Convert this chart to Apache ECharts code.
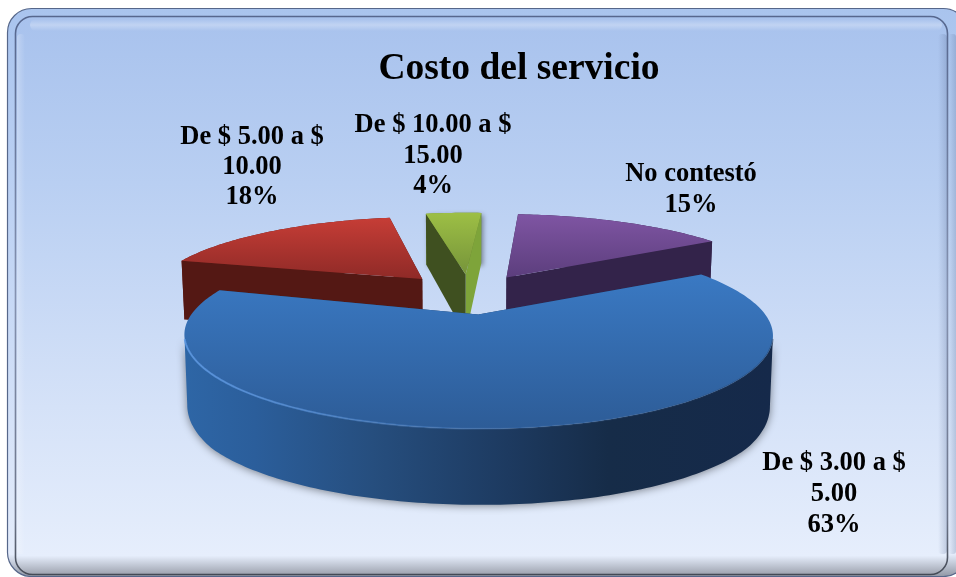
<!DOCTYPE html>
<html>
<head>
<meta charset="utf-8">
<style>html,body{margin:0;padding:0;background:#fff}#c{width:956px;height:577px}</style>
<script src="https://cdn.jsdelivr.net/npm/echarts@6/dist/echarts.min.js"></script>
</head>
<body>
<div id="c"></div>
<script>
// ---- data (clockwise, in painting order) ----
const categories = ['De $ 5.00 a $\n10.00', 'De $ 10.00 a $\n15.00', 'No contestó', 'De $ 3.00 a $\n5.00'];
const values = [18, 4, 15, 63];
const titleText = 'Costo del servicio';

// ---- styling ----
const startAngle = 286.8;
const view = {cx: 470, cy: 293.5, rx: 272, ry: 80, k: 0.21, d0: 63, explode: 0.25};
const nudgeX = [-5, -3, 1, 0];
const turn = [-2, -2, -1.5, 0];
const reach = [1.01, 1.03, 1.045, 1];
const labelX = [252, 433, 691, 834];
const labelY = [167, 156, 190, 494];
const labelLine = [30, 30.5, 31, 31];
const topStops = [['#c63d36', '#8f2a27'], ['#9dbf45', '#76943a'], ['#7f55a3', '#5c3e7d'], ['#3a79c3', '#2d5c97']];
const startCut = ['#541814', '#3f5020', '#33234a', '#1c3c60'];
const endCut = ['#541814', '#7ea43a', '#33234a', '#1c3c60'];
const rimStops = [
  [[0, '#6e1f1b'], [1, '#541814']],
  [[0, '#7ea43a'], [1, '#5f7d2c']],
  [[0, '#33234a'], [1, '#33234a']],
  [[0, '#2e66a6'], [0.12, '#2b5e9b'], [0.32, '#264e7e'], [0.55, '#1d3a60'], [0.72, '#162c48'], [1, '#15294a']]
];

const total = values.reduce((a, b) => a + b, 0);
function depthAt(v) {
  return v < 0 ? view.d0 + 9.5 * v : Math.min(76, view.d0 + 16 * v);
}
function project(u, v, h, nx) {
  const s = 1 / (1 - view.k * v);
  const x = view.cx + nx + view.rx * u * s * (1 - h * 0.01);
  const y = view.cy + view.ry * v * s + h * depthAt(v);
  return [x, y];
}
function vert(c1, c2) {
  return {type: 'linear', x: 0, y: 0, x2: 0, y2: 1, colorStops: [{offset: 0, color: c1}, {offset: 1, color: c2}]};
}
function horiz(stops) {
  return {type: 'linear', x: 0, y: 0, x2: 1, y2: 0, colorStops: stops.map(s => ({offset: s[0], color: s[1]}))};
}

function renderSlice(params, api) {
  const i = params.dataIndex;
  const val = api.value(0);
  let before = 0;
  for (let j = 0; j < i; j++) before += values[j];
  const a0 = startAngle + before / total * 360 + turn[i];
  const a1 = a0 + val / total * 360;
  const mid = (a0 - turn[i] + a1 - turn[i]) / 2 * Math.PI / 180;
  const cu = view.explode * Math.sin(mid), cv = -view.explode * Math.cos(mid);
  const nx = nudgeX[i];
  const r = reach[i];
  const at = (deg, h) => {
    const t = deg * Math.PI / 180;
    return project(cu + r * Math.sin(t), cv - r * Math.cos(t), h, nx);
  };
  const apex = h => project(cu, cv, h, nx);
  const arc = h => {
    const pts = [];
    const n = Math.ceil(a1 - a0);
    for (let j = 0; j <= n; j++) pts.push(at(a0 + (a1 - a0) * j / n, h));
    return pts;
  };
  const shadow = i === 3 ? {shadowBlur: 9, shadowColor: 'rgba(0,0,0,0.45)', shadowOffsetY: 1}
    : i === 1 ? {shadowBlur: 5, shadowColor: 'rgba(0,0,0,0.4)', shadowOffsetX: 2, shadowOffsetY: 2} : {};
  const children = [];
  // outer wall: only the stretch between the arc's screen-space left and right extremes
  const topArc = arc(0), lowArc = arc(1);
  let iMin = 0, iMax = 0;
  topArc.forEach((p, j) => { if (p[0] < topArc[iMin][0]) iMin = j; if (p[0] > topArc[iMax][0]) iMax = j; });
  const from = Math.min(iMin, iMax), to = Math.max(iMin, iMax) + 1;
  children.push({type: 'polygon',
    shape: {points: topArc.slice(from, to).concat(lowArc.slice(from, to).reverse())},
    style: Object.assign({fill: horiz(rimStops[i])}, shadow)});
  // cut faces
  const startFace = {type: 'polygon', shape: {points: [at(a0, 0), apex(0), apex(1), at(a0, 1)]}, style: {fill: startCut[i]}};
  const endFace = {type: 'polygon', shape: {points: [at(a1, 0), apex(0), apex(1), at(a1, 1)]}, style: {fill: endCut[i]}};
  if (i === 2) children.push(startFace, endFace); else children.push(endFace, startFace);
  // top face
  children.push({type: 'polygon', shape: {points: [apex(0)].concat(topArc)},
    style: {fill: vert(topStops[i][0], topStops[i][1])}});
  if (i === 3) {
    // bevel highlight along the front edge
    const front = topArc.filter(p => p[1] > 338);
    children.push({type: 'polyline', shape: {points: front},
      style: {fill: 'none', lineWidth: 2, stroke: horiz([
        [0, 'rgba(95,155,230,0.8)'], [0.25, 'rgba(95,155,230,0.5)'], [0.55, 'rgba(95,155,230,0.1)'], [1, 'rgba(20,40,70,0.3)']])}});
  }
  // label
  const pct = Math.round(val / total * 100) + '%';
  children.push({type: 'text', z2: 100, style: {
    x: labelX[i], y: labelY[i], text: categories[i] + '\n' + pct,
    align: 'center', verticalAlign: 'middle', fill: '#000',
    font: 'bold 26.5px "Liberation Serif"', lineHeight: labelLine[i]
  }});
  return {type: 'group', children};
}

const frameBevel = {type: 'linear', x: 0, y: 0, x2: 0, y2: 1, colorStops: [
  {offset: 0, color: '#a9c4ee'}, {offset: 0.5, color: '#c6d8f5'}, {offset: 0.96, color: '#e4ecfb'}, {offset: 1, color: '#8f96a3'}]};
const innerFill = {type: 'linear', x: 0, y: 0, x2: 0, y2: 1, colorStops: [
  {offset: 0, color: '#a8c2ed'}, {offset: 0.3, color: '#b9cff2'},
  {offset: 0.7, color: '#d5e2f8'}, {offset: 0.965, color: '#e6eefc'}, {offset: 1, color: '#9a9fab'}]};
const innerStroke = {type: 'linear', x: 0, y: 0, x2: 0, y2: 1, colorStops: [
  {offset: 0, color: '#56678e'}, {offset: 0.5, color: '#8592b0'}, {offset: 0.9, color: '#6c7488'}, {offset: 1, color: '#444a55'}]};
const sideShade = {type: 'linear', x: 0, y: 0, x2: 1, y2: 0, colorStops: [
  {offset: 0, color: 'rgba(90,110,150,0)'}, {offset: 1, color: 'rgba(90,110,150,0.28)'}]};
const leftGlow = {type: 'linear', x: 0, y: 0, x2: 1, y2: 0, colorStops: [
  {offset: 0, color: 'rgba(255,255,255,0.25)'}, {offset: 1, color: 'rgba(255,255,255,0)'}]};
const topGlow = {type: 'linear', x: 0, y: 0, x2: 0, y2: 1, colorStops: [
  {offset: 0, color: 'rgba(255,255,255,0)'}, {offset: 0.5, color: 'rgba(255,255,255,0.28)'}, {offset: 1, color: 'rgba(255,255,255,0)'}]};

const chart = echarts.init(document.getElementById('c'), null, {renderer: 'canvas'});
chart.setOption({
  animation: false,
  backgroundColor: '#ffffff',
  title: {
    text: titleText, left: 514, top: 45, textAlign: 'center',
    textStyle: {fontFamily: 'Liberation Serif', fontWeight: 'bold', fontSize: 37.5, color: '#000'}
  },
  graphic: [
    {type: 'rect', z: -5, shape: {x: 7.5, y: 8.5, width: 960, height: 568, r: 24},
      style: {fill: frameBevel, stroke: '#56678a', lineWidth: 1.2}},
    {type: 'rect', z: -4, shape: {x: 15.5, y: 16.5, width: 932, height: 558, r: 17},
      style: {fill: innerFill, stroke: innerStroke, lineWidth: 1.6}},
    {type: 'rect', z: -3, shape: {x: 30, y: 19, width: 912, height: 12, r: 6}, style: {fill: topGlow}},
    {type: 'rect', z: -3, shape: {x: 17, y: 34, width: 8, height: 520, r: 4}, style: {fill: leftGlow}},
    {type: 'rect', z: -3, shape: {x: 938, y: 34, width: 9, height: 520, r: 4}, style: {fill: sideShade}},
    {type: 'rect', z: -3, shape: {x: 948.5, y: 34, width: 7.5, height: 520, r: 3}, style: {fill: sideShade}}
  ],
  series: [{
    type: 'custom',
    coordinateSystem: 'none',
    renderItem: renderSlice,
    data: values.map((v, i) => ({name: categories[i], value: [v]}))
  }]
});
</script>
</body>
</html>
